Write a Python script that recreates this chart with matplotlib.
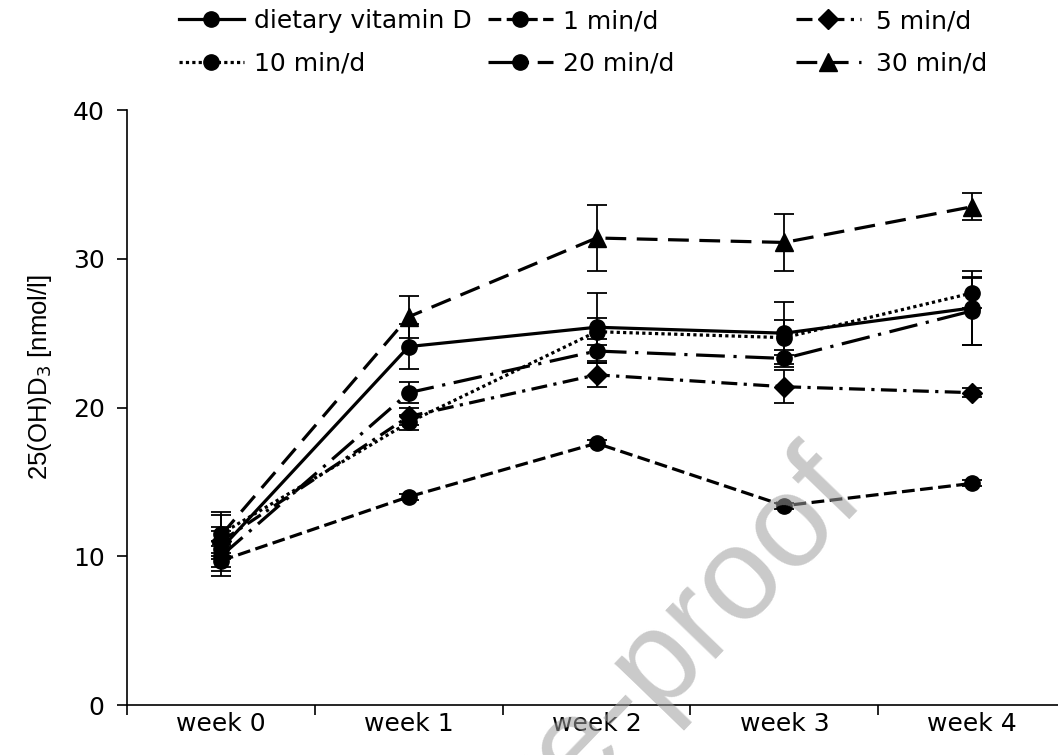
import matplotlib
matplotlib.use("Agg")
import matplotlib.pyplot as plt
import numpy as np

plt.rcParams['font.family'] = ['DejaVu Sans']

weeks = ["week 0", "week 1", "week 2", "week 3", "week 4"]
groups = ["dietary vitamin D", "1 min/d", "5 min/d", "10 min/d", "20 min/d", "30 min/d"]

# mean 25(OH)D3 per group and week, with SD
dietary = [10.5, 24.1, 25.4, 25.0, 26.7]
dietary_sd = [1.2, 1.5, 2.3, 2.1, 2.5]
min1 = [9.7, 14.0, 17.6, 13.4, 14.9]
min1_sd = [1.0, 0.2, 0.2, 0.2, 0.2]
min5 = [11.0, 19.4, 22.2, 21.4, 21.0]
min5_sd = [1.0, 0.6, 0.8, 1.1, 0.3]
min10 = [11.5, 19.0, 25.1, 24.7, 27.7]
min10_sd = [1.3, 0.5, 0.9, 1.2, 1.0]
min20 = [10.0, 21.0, 23.8, 23.3, 26.5]
min20_sd = [1.0, 0.7, 0.8, 0.6, 2.3]
min30 = [11.4, 26.1, 31.4, 31.1, 33.5]
min30_sd = [1.6, 1.4, 2.2, 1.9, 0.9]

means = [dietary, min1, min5, min10, min20, min30]
sds = [dietary_sd, min1_sd, min5_sd, min10_sd, min20_sd, min30_sd]
markers = ['o', 'o', 'D', 'o', 'o', '^']
msizes = [11, 11, 10, 11, 11, 13]
dashes = [None, (4, 1.7), (5, 2, 1, 2), (1, 1), (9, 2.7, 1, 2.7), (6.5, 3.3)]

fig = plt.figure(figsize=(10.58, 7.55), dpi=100)
ax = fig.add_axes([0.120, 0.0662, 0.8876, 0.788])

x = np.arange(len(weeks))
handles = []
for name, m, s, mk, ms, ds in zip(groups, means, sds, markers, msizes, dashes):
    ax.errorbar(x, m, yerr=s, fmt='none', ecolor='black', elinewidth=1.3,
                capsize=7, capthick=1.3, zorder=2)
    ln, = ax.plot(x, m, color='black', lw=2.3, marker=mk, markersize=ms,
                  markerfacecolor='black', markeredgecolor='black', zorder=3,
                  label=name)
    if ds is not None:
        ln.set_dashes(ds)
    handles.append(ln)

ax.set_xlim(-0.5, 4.5)
ax.set_ylim(0, 40)
ax.set_yticks([0, 10, 20, 30, 40])
ax.set_xticks(np.arange(-0.5, 5.0, 1.0))
ax.set_xticklabels([])
ax.set_xticks(x, minor=True)
ax.set_xticklabels(weeks, minor=True)
ax.tick_params(axis='x', which='major', direction='out', length=7, width=1.2)
ax.tick_params(axis='x', which='minor', length=0, pad=5, labelsize=18)
ax.tick_params(axis='y', direction='out', length=7, width=1.2, pad=9, labelsize=18)
for side in ['top', 'right']:
    ax.spines[side].set_visible(False)
for side in ['left', 'bottom']:
    ax.spines[side].set_linewidth(1.2)

ax.set_ylabel("25(OH)D$_3$ [nmol/l]", fontsize=18.5, family='Liberation Sans')
ax.yaxis.set_label_coords(-0.078, 0.551)

# legend: three columns of two entries each
columns = [(0, 3), (1, 4), (2, 5)]
col_x = [0.169, 0.461, 0.752]
pads = [0.4, 0.4, 0.6]
for (a, b), cx, pad in zip(columns, col_x, pads):
    fig.legend([handles[a], handles[b]], [groups[a], groups[b]],
               loc='upper left', bbox_to_anchor=(cx, 0.988), frameon=False,
               fontsize=18, handlelength=2.6, handletextpad=pad, labelspacing=0.75,
               borderpad=0, borderaxespad=0, numpoints=1)

fig.text(0.821, 0.336, "Journal Pre-proof", fontsize=95, family='Liberation Sans',
         color='0.62', alpha=0.55, rotation=46, rotation_mode='anchor',
         ha='right', va='baseline', zorder=10)

fig.savefig("out.png", dpi=100)
